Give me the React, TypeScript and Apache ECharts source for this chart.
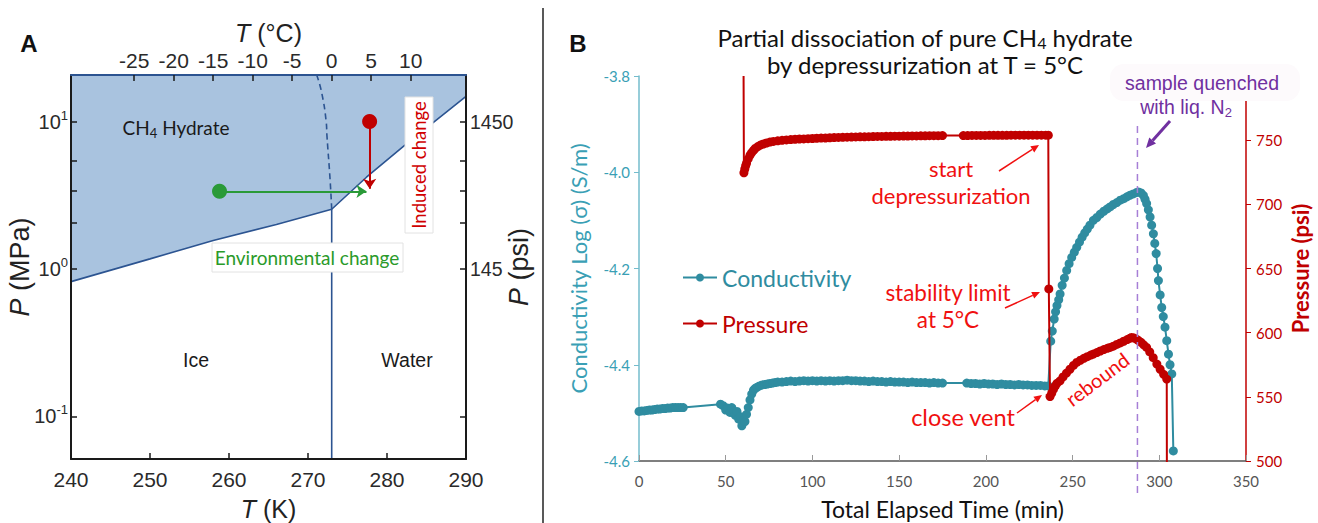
import React, { useEffect, useRef } from "react";
import * as echarts from "echarts";

const ARIAL = "'Liberation Sans', Arial, sans-serif";
const CAL = "Lato, 'Liberation Sans', sans-serif";

// ---------- Panel A data ----------
const kelvinMin = 240;
const kelvinMax = 290;
const celsiusTicks = [-25, -20, -15, -10, -5, 0, 5, 10];
const mpaLabels = [0.1, 1, 10];
const mpaMinorTicks = [2.07, 3.37, 5.4];
const psiLabels = ["145", "1450"]; // at 1 and 10 MPa
const psiAt = [1, 10];
const mpaMin = 0.0513;
const mpaMax = 20.7;
const hydrateBoundary: [number, number][] = [
  [240, 0.82], [250, 1.17], [258, 1.56], [266, 2.0], [273, 2.54],
  [277.4, 4.19], [282, 6.73], [290, 14.8],
];
const meltLine: [number, number][] = [[273, 0.0513], [273, 2.54]];
const iceDashed: [number, number][] = [
  [273, 2.54], [272.8, 4], [272.4, 8], [272.3, 10], [271.7, 16], [271.1, 20.7],
];
const envChange: [number, number][] = [[258.8, 3.36], [277.4, 3.36]];
const inducedChange: [number, number][] = [[277.8, 10], [277.8, 3.5]];

// ---------- Panel B data ----------
const quenchTime = 287.4;
const psiTicks = [500, 550, 600, 650, 700, 750];
const conductivity: [number, number][] = [
  [0, -4.497], [1.5, -4.496], [3, -4.496], [4.5, -4.495], [6, -4.494], [7.5, -4.494], [9, -4.493],
  [10.5, -4.492], [12, -4.492], [13.5, -4.491], [15, -4.491], [16.5, -4.49], [18, -4.49],
  [19.5, -4.489], [21, -4.489], [22.5, -4.489], [24, -4.489], [25.5, -4.489],
  [47, -4.482], [48.5, -4.485], [50, -4.494], [51, -4.49], [52.5, -4.499], [53.5, -4.489],
  [54.5, -4.5], [55.5, -4.505], [56.5, -4.497], [57.5, -4.513], [58.5, -4.508], [59.3, -4.527],
  [60.2, -4.516], [61.1, -4.518], [62, -4.503], [63, -4.489], [64, -4.473], [65, -4.461],
  [66, -4.453], [67, -4.449], [68, -4.447], [69.5, -4.444], [71, -4.442], [72.5, -4.441],
  [74, -4.44], [75.5, -4.439], [77, -4.438], [78.5, -4.437], [80, -4.436],
  [82.5, -4.436], [85, -4.435], [87.5, -4.434], [90, -4.435], [92.5, -4.434], [95, -4.433],
  [97.5, -4.434], [100, -4.433], [102.5, -4.434], [105, -4.433], [107.5, -4.434], [110, -4.433],
  [112.5, -4.434], [115, -4.433], [117.5, -4.433], [120, -4.432], [122.5, -4.433], [125, -4.433],
  [127.5, -4.434], [130, -4.434], [132.5, -4.435], [135, -4.434], [137.5, -4.435], [140, -4.435],
  [142.5, -4.436], [145, -4.435], [147.5, -4.436], [150, -4.436], [152.5, -4.436], [155, -4.437],
  [157.5, -4.436], [160, -4.437], [162.5, -4.437], [165, -4.437], [167.5, -4.438], [170, -4.437],
  [172.5, -4.438], [175, -4.438],
  [189, -4.438], [191.5, -4.439], [194, -4.439], [196.5, -4.44], [199, -4.439], [201.5, -4.44],
  [204, -4.44], [206.5, -4.441], [209, -4.44], [211.5, -4.441], [214, -4.441], [216.5, -4.442],
  [219, -4.441], [221.5, -4.442], [224, -4.442], [226.5, -4.443], [229, -4.443], [231.5, -4.443],
  [234, -4.444], [236, -4.444],
  [237.4, -4.351], [238.3, -4.33], [239.4, -4.305], [240.2, -4.29], [241, -4.277], [242, -4.265],
  [242.8, -4.253], [244, -4.235], [245.3, -4.22], [246.6, -4.204], [248, -4.19], [249.5, -4.177],
  [251, -4.166], [252.4, -4.156], [254, -4.145], [255.5, -4.135], [257, -4.126], [258.5, -4.118],
  [260, -4.11], [262, -4.1], [264, -4.094], [266, -4.087], [268, -4.081], [270, -4.076],
  [271.6, -4.072], [273.5, -4.067], [275.5, -4.063], [277.5, -4.058], [279.5, -4.055],
  [281.3, -4.051], [283, -4.048], [285, -4.045], [287, -4.042], [288, -4.041], [289.5, -4.043],
  [290.8, -4.048], [291.8, -4.056], [292.7, -4.065], [293.7, -4.078], [294.7, -4.093],
  [295.6, -4.11], [296.6, -4.128], [297.4, -4.148], [298.2, -4.169], [299, -4.2], [299.5, -4.225],
  [300.5, -4.255], [301.4, -4.281], [302.3, -4.3], [303.3, -4.322], [304.3, -4.35], [305.3, -4.378],
  [306.2, -4.4], [307.2, -4.419], [308.1, -4.579],
];
const pressure: [number, number][] = [
  [60.3, 800], [60.5, 724.6], [61, 727.5], [61.5, 730], [62, 732], [63, 735.5], [64, 738.3],
  [65, 740.3], [66, 742], [67, 743.5], [68.5, 745], [70, 746.2], [71.7, 747], [73.5, 747.8],
  [75.5, 748.5], [77.5, 749], [80, 749.5], [82.5, 749.9], [85, 750.2], [87.5, 750.5], [90, 750.7],
  [92.5, 750.9], [95, 751], [97.5, 751.2], [100, 751.3], [102.5, 751.5], [105, 751.6],
  [107.5, 751.7], [110, 751.9], [112.5, 752], [115, 752.1], [117.5, 752.2], [120, 752.3],
  [122.5, 752.4], [125, 752.5], [127.5, 752.6], [130, 752.6], [132.5, 752.7], [135, 752.8],
  [137.5, 752.9], [140, 752.9], [142.5, 753], [145, 753], [147.5, 753.1], [150, 753.1],
  [152.5, 753.2], [155, 753.2], [157.5, 753.3], [160, 753.3], [162.5, 753.4], [165, 753.4],
  [167.5, 753.5], [170, 753.5], [172.5, 753.5], [175, 753.6],
  [187, 753.6], [189.5, 753.6], [192, 753.7], [194.5, 753.7], [197, 753.7], [199.5, 753.7],
  [202, 753.8], [204.5, 753.8], [207, 753.8], [209.5, 753.8], [212, 753.8], [214.5, 753.9],
  [217, 753.9], [219.5, 753.9], [222, 753.9], [224.5, 753.9], [227, 753.9], [229.5, 753.9],
  [232, 753.9], [234.5, 753.9], [236, 753.9],
  [236.3, 634.1], [237, 550.2],
  [238, 553], [239, 556], [240, 558.5], [241, 560.5], [242.8, 562.5], [244.5, 565.5],
  [246.5, 568.5], [248.5, 571.5], [250.5, 574.5], [252.4, 576.8], [254.5, 578.5], [256.5, 580],
  [258.5, 581.3], [260.5, 582.5], [262, 583.3], [264, 584.5], [266, 585.7], [268, 586.8],
  [270, 587.8], [271.6, 588.5], [273.5, 589.5], [275.5, 590.8], [277.5, 592], [279.5, 593.3],
  [281.5, 594.6], [283, 595.6], [284.1, 596.3], [285.5, 595.8], [287, 594.8], [288, 593.8],
  [289.5, 592.5], [291, 590.5], [292.7, 588.5], [294.5, 585], [296.5, 580.5], [298.6, 575.5],
  [300.5, 571.5], [302.5, 567.5], [304.3, 563.8], [304.4, 480],
];

const TEAL = "#2f8ca0";
const TEAL_TXT = "#3a9fb5";
const RED = "#c00000";
const BRIGHT_RED = "#f01010";
const PURPLE = "#7030a0";
const DARKBLUE = "#2c5491";

function txt(x: number, y: number, text: string, o: any = {}) {
  return {
    type: "text",
    x,
    y,
    rotation: o.rotation || 0,
    z: 60,
    style: {
      text,
      fill: o.color || "#111",
      fontSize: o.size || 18,
      fontFamily: o.font || CAL,
      fontWeight: o.weight || "normal",
      fontStyle: o.italic ? "italic" : "normal",
      align: "center",
      verticalAlign: "middle",
      textAlign: "center",
      textVerticalAlign: "middle",
      lineHeight: o.lineHeight,
      rich: o.rich,
    },
  };
}

function arrow(x1: number, y1: number, x2: number, y2: number, color: string, w: number, head: number) {
  const a = Math.atan2(y2 - y1, x2 - x1);
  const hx = x2 - head * Math.cos(a);
  const hy = y2 - head * Math.sin(a);
  const px = Math.sin(a) * head * 0.45;
  const py = -Math.cos(a) * head * 0.45;
  return [
    { type: "line", z: 60, shape: { x1, y1, x2: hx, y2: hy }, style: { stroke: color, lineWidth: w } },
    {
      type: "polygon",
      z: 60,
      shape: { points: [[x2, y2], [hx + px, hy + py], [hx - px, hy - py]] },
      style: { fill: color },
    },
  ];
}

function buildGraphics(qx: number) {
  const subRich = (size: number, color: string, font: string) => ({
    sub: { fontSize: size, fontFamily: font, fill: color, color, verticalAlign: "bottom", lineHeight: size + 2 },
  });
  return [
    { type: "line", z: 60, shape: { x1: 543, y1: 8, x2: 543, y2: 523 }, style: { stroke: "#222", lineWidth: 1.5 } },
    txt(29, 43, "A", { size: 24, weight: "bold", font: ARIAL, color: "#111" }),
    txt(578, 43, "B", { size: 24, weight: "bold", font: ARIAL, color: "#111" }),
    // Panel A labels
    txt(176, 127, "CH{sub|4} Hydrate", { size: 19, color: "#1a1a1a", lineHeight: 25, rich: subRich(13, "#1a1a1a", CAL) }),
    txt(196, 360, "Ice", { size: 19.5, font: ARIAL, color: "#1a1a1a" }),
    txt(407, 360, "Water", { size: 19.5, font: ARIAL, color: "#1a1a1a" }),
    {
      type: "rect", z: 55, shape: { x: 212, y: 243, width: 191, height: 29 },
      style: { fill: "#ffffff", stroke: "#e2e2e2", lineWidth: 1 },
    },
    txt(307, 257, "Environmental change", { size: 19, color: "#2a9a2a" }),
    {
      type: "rect", z: 55, shape: { x: 405, y: 97, width: 28, height: 136 },
      style: { fill: "#ffffff", stroke: "#e2e2e2", lineWidth: 1 },
    },
    txt(419, 165, "Induced change", { size: 18.5, color: "#d00000", rotation: Math.PI / 2 }),
    // Panel B title
    txt(925, 50.5, "Partial dissociation of pure CH{sub|4} hydrate\nby depressurization at T = 5°C", {
      size: 24, color: "#111", lineHeight: 27, rich: subRich(16, "#111", CAL),
    }),
    // annotations
    txt(951, 181.5, "start\ndepressurization", { size: 22, color: BRIGHT_RED, lineHeight: 27 }),
    ...arrow(999, 171, 1039, 145, BRIGHT_RED, 1.5, 8),
    txt(948, 306, "stability limit\nat 5°C", { size: 22.5, color: BRIGHT_RED, lineHeight: 27 }),
    ...arrow(1005, 308, 1040, 292, BRIGHT_RED, 1.5, 8),
    txt(963, 417, "close vent", { size: 23.5, color: BRIGHT_RED }),
    ...arrow(1017, 413, 1042, 395, BRIGHT_RED, 1.5, 8),
    txt(1097, 379, "rebound", { size: 20, color: BRIGHT_RED, rotation: 0.646 }),
    // quench annotation
    {
      type: "line", z: 58, shape: { x1: qx, y1: 126, x2: qx, y2: 497 },
      style: { stroke: "#a67fd6", lineWidth: 1.5, lineDash: [7, 5] },
    },
    {
      type: "rect", z: 56, shape: { x: 1110, y: 64, width: 190, height: 37, r: 14 },
      style: { fill: "#fdfafc" },
    },
    txt(1202, 83, "sample quenched", { size: 19.5, color: PURPLE, font: ARIAL }),
    txt(1186, 107, "with liq. N{sub|2}", { size: 19.5, color: PURPLE, font: ARIAL, lineHeight: 24, rich: subRich(13, PURPLE, ARIAL) }),
    ...arrow(1170, 121, 1146, 148, PURPLE, 3, 10),
  ];
}

const axisA = {
  z: 5,
  nameMoveOverlap: false,
  splitLine: { show: false },
  axisLine: { onZero: false, lineStyle: { color: "#1a1a1a", width: 2 } },
  axisTick: { inside: true, length: 6, lineStyle: { color: "#1a1a1a", width: 1.5 } },
};
const labelA = { color: "#2a2a2a", fontSize: 21, fontFamily: ARIAL };
const nameA = (size: number) => ({
  fontSize: size,
  color: "#222",
  fontFamily: ARIAL,
  rich: { i: { fontStyle: "italic", fontSize: size, fontFamily: ARIAL, color: "#222" } },
});

const option: any = {
  animation: false,
  backgroundColor: "#ffffff",
  grid: [
    { left: 71, top: 75, width: 395, height: 384, outerBoundsMode: "none" },
    { left: 639, top: 76, width: 607, height: 385, outerBoundsMode: "none" },
  ],
  legend: {
    orient: "vertical",
    left: 677,
    top: 261,
    itemWidth: 34,
    itemHeight: 10,
    itemGap: 23,
    textStyle: { fontSize: 23, fontFamily: CAL },
    data: [
      { name: "Conductivity", textStyle: { color: TEAL } },
      { name: "Pressure", textStyle: { color: RED } },
    ],
  },
  xAxis: [
    {
      ...axisA,
      gridIndex: 0,
      type: "value",
      min: kelvinMin,
      max: kelvinMax,
      interval: 10,
      position: "bottom",
      axisLabel: { ...labelA, margin: 10 },
      name: "{i|T} (K)",
      nameLocation: "middle",
      nameGap: 37,
      nameTextStyle: nameA(25),
    },
    {
      ...axisA,
      gridIndex: 0,
      type: "value",
      min: kelvinMin,
      max: kelvinMax,
      position: "top",
      axisLine: { onZero: false, lineStyle: { color: DARKBLUE, width: 2 } },
      axisTick: { ...axisA.axisTick, customValues: celsiusTicks.map((c) => c + 273) },
      axisLabel: {
        ...labelA,
        margin: 4,
        customValues: celsiusTicks.map((c) => c + 273),
        formatter: (v: number) => String(Math.round(v - 273)),
      },
      name: "{i|T} (°C)",
      nameLocation: "middle",
      nameGap: 30,
      nameTextStyle: nameA(25),
    },
    {
      gridIndex: 1,
      type: "value",
      min: 0,
      max: 350,
      interval: 50,
      nameMoveOverlap: false,
      splitLine: { show: false },
      axisLine: { onZero: false, lineStyle: { color: "#555", width: 1.5 } },
      axisTick: { inside: true, length: 6, lineStyle: { color: "#999", width: 1 } },
      axisLabel: { color: "#555", fontSize: 15, fontFamily: CAL, margin: 12 },
      name: "Total Elapsed Time (min)",
      nameLocation: "middle",
      nameGap: 36,
      nameTextStyle: { fontSize: 23, color: "#111", fontFamily: CAL },
    },
  ],
  yAxis: [
    {
      ...axisA,
      gridIndex: 0,
      type: "log",
      logBase: 10,
      min: mpaMin,
      max: mpaMax,
      position: "left",
      axisTick: { ...axisA.axisTick, customValues: [...mpaLabels, ...mpaMinorTicks] },
      axisLabel: {
        ...labelA,
        margin: 3,
        customValues: mpaLabels,
        formatter: (v: number) => "{m|10}{s|" + Math.round(Math.log10(v)) + "}",
        rich: {
          m: { fontSize: 20, fontFamily: ARIAL, color: "#2a2a2a", lineHeight: 26 },
          s: { fontSize: 13, fontFamily: ARIAL, color: "#2a2a2a", verticalAlign: "top", lineHeight: 14 },
        },
      },
      name: "{i|P} (MPa)",
      nameLocation: "middle",
      nameGap: 38,
      nameTextStyle: nameA(27),
    },
    {
      ...axisA,
      gridIndex: 0,
      type: "log",
      logBase: 10,
      min: mpaMin,
      max: mpaMax,
      position: "right",
      axisTick: { ...axisA.axisTick, customValues: [...mpaLabels, ...mpaMinorTicks] },
      axisLabel: {
        ...labelA,
        fontSize: 19.5,
        margin: 4,
        customValues: psiAt,
        formatter: (v: number) => psiLabels[psiAt.indexOf(Math.round(v))] || "",
      },
      name: "{i|P} (psi)",
      nameLocation: "middle",
      nameGap: 39,
      nameTextStyle: nameA(27),
    },
    {
      gridIndex: 1,
      type: "value",
      min: -4.6,
      max: -3.8,
      interval: 0.2,
      position: "left",
      nameMoveOverlap: false,
      splitLine: { show: false },
      axisLine: { onZero: false, lineStyle: { color: "#74bccc", width: 1.5 } },
      axisTick: { inside: false, length: 5, lineStyle: { color: "#74bccc", width: 1 } },
      axisLabel: { color: TEAL_TXT, fontSize: 15, fontFamily: CAL, margin: 9, formatter: (v: number) => v.toFixed(1) },
      name: "Conductivity Log (σ) (S/m)",
      nameLocation: "middle",
      nameGap: 50,
      nameTextStyle: { color: TEAL_TXT, fontSize: 22, fontFamily: CAL },
    },
    {
      gridIndex: 1,
      type: "value",
      min: 500,
      max: 800,
      interval: 50,
      position: "right",
      nameMoveOverlap: false,
      splitLine: { show: false },
      axisLine: { onZero: false, lineStyle: { color: RED, width: 1.5 } },
      axisTick: { inside: false, length: 5, customValues: psiTicks, lineStyle: { color: RED, width: 1 } },
      axisLabel: { color: RED, fontSize: 15, fontFamily: CAL, margin: 10, customValues: psiTicks },
      name: "Pressure (psi)",
      nameLocation: "middle",
      nameGap: 43,
      nameTextStyle: { color: RED, fontSize: 22, fontWeight: "bold", fontFamily: CAL },
    },
  ],
  series: [
    {
      type: "line",
      xAxisIndex: 0,
      yAxisIndex: 0,
      data: hydrateBoundary,
      symbol: "none",
      silent: true,
      z: 2,
      lineStyle: { color: DARKBLUE, width: 1.6 },
      areaStyle: { color: "#a9c3df", opacity: 1, origin: "end" },
    },
    {
      type: "line",
      xAxisIndex: 0,
      yAxisIndex: 0,
      data: meltLine,
      symbol: "none",
      silent: true,
      z: 3,
      lineStyle: { color: DARKBLUE, width: 1.6 },
    },
    {
      type: "line",
      xAxisIndex: 0,
      yAxisIndex: 0,
      data: iceDashed,
      symbol: "none",
      smooth: true,
      silent: true,
      z: 3,
      lineStyle: { color: DARKBLUE, width: 1.6, type: [6, 4] },
    },
    {
      type: "line",
      xAxisIndex: 0,
      yAxisIndex: 0,
      data: envChange,
      symbol: "none",
      silent: true,
      z: 4,
      lineStyle: { opacity: 0 },
      markLine: {
        silent: true,
        animation: false,
        label: { show: false },
        itemStyle: { color: "#2a8f35" },
        lineStyle: { color: "#2a9a38", width: 2, type: "solid" },
        emphasis: { disabled: true },
        data: [[
          { coord: envChange[0], symbol: "circle", symbolSize: 15 },
          { coord: envChange[1], symbol: "arrow", symbolSize: 10 },
        ]],
      },
    },
    {
      type: "line",
      xAxisIndex: 0,
      yAxisIndex: 0,
      data: inducedChange,
      symbol: "none",
      silent: true,
      z: 4,
      lineStyle: { opacity: 0 },
      markLine: {
        silent: true,
        animation: false,
        label: { show: false },
        itemStyle: { color: RED },
        lineStyle: { color: RED, width: 2, type: "solid" },
        emphasis: { disabled: true },
        data: [[
          { coord: inducedChange[0], symbol: "circle", symbolSize: 15 },
          { coord: inducedChange[1], symbol: "arrow", symbolSize: 10 },
        ]],
      },
    },
    {
      name: "Conductivity",
      type: "line",
      xAxisIndex: 2,
      yAxisIndex: 2,
      data: conductivity,
      symbol: "circle",
      symbolSize: 9,
      showAllSymbol: true,
      z: 3,
      lineStyle: { color: TEAL, width: 2 },
      itemStyle: { color: TEAL },
    },
    {
      name: "Pressure",
      type: "line",
      xAxisIndex: 2,
      yAxisIndex: 3,
      data: pressure.map((p, i) => (i === 0 || i === pressure.length - 1 ? { value: p, symbol: "none" } : p)),
      symbol: "circle",
      symbolSize: 9,
      showAllSymbol: true,
      z: 4,
      lineStyle: { color: RED, width: 2 },
      itemStyle: { color: RED },
    },
  ],
};

export default function App() {
  const ref = useRef<HTMLDivElement>(null);
  useEffect(() => {
    const chart = echarts.init(ref.current!, null, { renderer: "svg" });
    chart.setOption(option);
    const qx = chart.convertToPixel({ xAxisIndex: 2 }, quenchTime) as number;
    chart.setOption({ graphic: { elements: buildGraphics(qx) } });
    return () => chart.dispose();
  }, []);
  return (
    <div
      ref={ref}
      style={{ position: "fixed", left: 0, top: 0, width: 1318, height: 523, background: "#fff" }}
    />
  );
}
